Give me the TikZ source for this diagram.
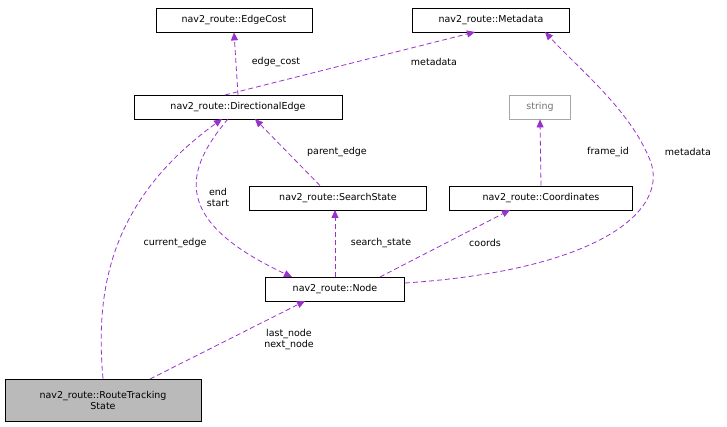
\documentclass[tikz,border=0pt]{standalone}
\usepackage{fontspec}
\setmainfont{DejaVu Sans}
\usetikzlibrary{positioning}
\usetikzlibrary{arrows.meta}
\definecolor{edgepurple}{RGB}{153,50,204}

\begin{document}
\begin{tikzpicture}[%
  >={Triangle[length=8pt,width=7pt]},
  x=1pt, y=-1pt,
  font=\fontsize{9.5}{11}\selectfont,
  cls/.style={draw=black, fill=white, line width=0.8pt, minimum height=24pt, inner sep=2pt},
  rel/.style={draw=edgepurple, line width=0.8pt, dash pattern=on 5pt off 3pt, ->, fill=none},
  lbl/.style={align=center, inner sep=1pt}
]

  \useasboundingbox (0,0) rectangle (727,427);

  % classes
  \node[cls, minimum width=156pt] (cost) at (234,20) {nav2\_route::EdgeCost};
  \node[cls, minimum width=157pt] (meta) at (491,20) {nav2\_route::Metadata};
  \node[cls, minimum width=208pt] (edge) at (238,107) {nav2\_route::DirectionalEdge};
  \node[cls, draw=black!35, text=black!55, minimum width=61pt] (str) at (540,107) {string};
  \node[cls, minimum width=177pt] (search) at (338,198) {nav2\_route::SearchState};
  \node[cls, minimum width=183pt] (coord) at (541,198) {nav2\_route::Coordinates};
  \node[cls, minimum width=139pt] (node) at (335,289) {nav2\_route::Node};
  \node[cls, fill=black!27, minimum width=196pt, minimum height=42pt, align=center] (track) at (103,400)
    {nav2\_route::RouteTracking\\State};

  \coordinate (e1) at (238,95);
  \coordinate (e2) at (225,95);
  \coordinate (n1) at (405,283);
  \coordinate (s1) at (335,210);

  % relations
  \draw[rel] (e1) -- (cost.south);
  \draw[rel] (e2) -- (475,32);
  \draw[rel] (n1) .. controls (600,270) and (670,210) .. (650,160)
    .. controls (630,110) and (580,70) .. (545,32);
  \draw[rel] (coord.north) -- (str.south);
  \draw[rel] (search.north) ++(-18,0) -- (255,119);
  \draw[rel] (228,119) .. controls (185,170) and (170,220) .. (292,277);
  \draw[rel] (node.north) -- (s1);
  \draw[rel] (380,277) -- (510,210);
  \draw[rel] (track.north) .. controls (95,290) and (110,200) .. (222,119);
  \draw[rel] (150,379) -- (305,301);

  % labels
  \node[lbl] at (276,62) {edge\_cost};
  \node[lbl] at (434,62) {metadata};
  \node[lbl] at (688,152) {metadata};
  \node[lbl] at (608,152) {frame\_id};
  \node[lbl] at (337,152) {parent\_edge};
  \node[lbl] at (218,197) {end\\start};
  \node[lbl] at (381,243) {search\_state};
  \node[lbl] at (485,243) {coords};
  \node[lbl] at (175,243) {current\_edge};
  \node[lbl] at (289,340) {last\_node\\next\_node};

\end{tikzpicture}
\end{document}
